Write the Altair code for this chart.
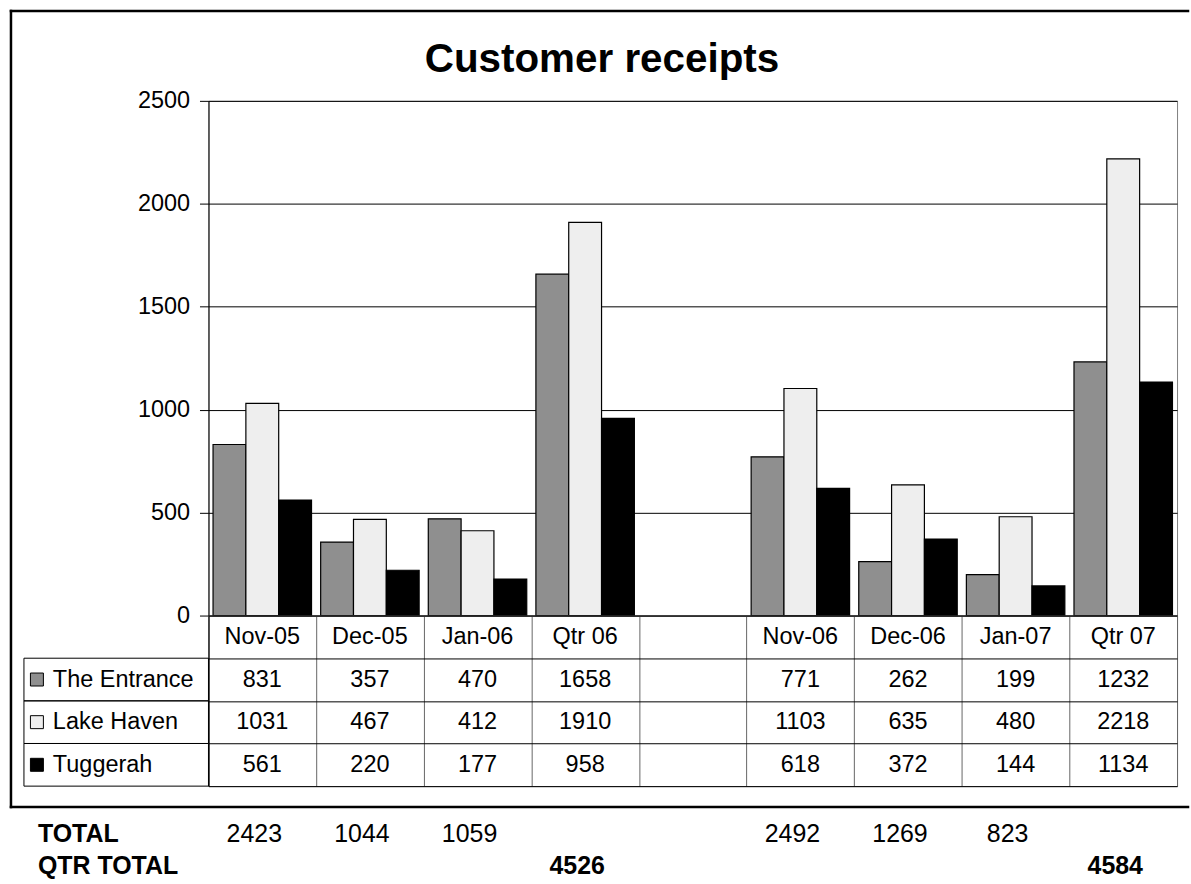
import altair as alt
import pandas as pd

FONT = "Liberation Sans"

categories = ["Nov-05", "Dec-05", "Jan-06", "Qtr 06", " ", "Nov-06", "Dec-06", "Jan-07", "Qtr 07"]
series = ["The Entrance", "Lake Haven", "Tuggerah"]
entrance = [831, 357, 470, 1658, None, 771, 262, 199, 1232]
lake_haven = [1031, 467, 412, 1910, None, 1103, 635, 480, 2218]
tuggerah = [561, 220, 177, 958, None, 618, 372, 144, 1134]
totals = [2423, 1044, 1059, None, None, 2492, 1269, 823, None]
qtr_totals = [None, None, None, 4526, None, None, None, None, 4584]
y_ticks = [0, 500, 1000, 1500, 2000, 2500]
fills = ["#8f8f8f", "#eeeeee", "#000000"]
table_rows = ["hdr"] + series
total_rows = ["TOTAL", "QTR TOTAL"]

# ---- data frames -------------------------------------------------------
bar_records = []
table_records = []
for c in categories:
    if c.strip():
        table_records.append({"cat": c, "row": "hdr", "label": c})
for s, vals in zip(series, [entrance, lake_haven, tuggerah]):
    for c, v in zip(categories, vals):
        if v is not None:
            bar_records.append({"cat": c, "series": s, "value": v})
            table_records.append({"cat": c, "row": s, "label": str(v)})
bars_df = pd.DataFrame(bar_records)
table_df = pd.DataFrame(table_records)
series_df = pd.DataFrame({"row": series, "series": series})

tot_df = pd.DataFrame([{"cat": c, "row": "TOTAL", "label": str(v)}
                       for c, v in zip(categories, totals) if v is not None])
qtr_df = pd.DataFrame([{"cat": c, "row": "QTR TOTAL", "label": str(v)}
                       for c, v in zip(categories, qtr_totals) if v is not None])
rowlab_df = pd.DataFrame({"row": total_rows})
one = pd.DataFrame({"k": [0]})

fill_scale = alt.Scale(domain=series, range=fills)

# ---- bar chart ---------------------------------------------------------
bars = alt.Chart(bars_df).mark_bar(stroke="black", strokeWidth=1.2).encode(
    x=alt.X("cat:N", scale=alt.Scale(domain=categories, paddingInner=0.085, paddingOuter=0.0425),
            axis=None, sort=categories),
    xOffset=alt.XOffset("series:N", scale=alt.Scale(domain=series, paddingInner=0, paddingOuter=0)),
    y=alt.Y("value:Q", scale=alt.Scale(domain=[0, 2500], nice=False),
            axis=alt.Axis(values=y_ticks, format="d", grid=True, gridColor="black", gridOpacity=1,
                          gridWidth=1, domainColor="black", tickColor="black", tickSize=9,
                          labelFontSize=23.5, labelPadding=10, labelColor="black", labelFont=FONT),
            title=None),
    fill=alt.Fill("series:N", scale=fill_scale, legend=None),
).properties(
    width=971, height=516,
    title=alt.TitleParams("Customer receipts", fontSize=40.5, fontWeight="bold", font=FONT,
                          color="black", anchor="middle", frame="group", dx=-91, offset=8),
    view=alt.ViewBackground(stroke="#808080"),
)

# ---- data table --------------------------------------------------------
x_tab = alt.X("cat:N", scale=alt.Scale(type="band", domain=categories, paddingInner=0, paddingOuter=0),
              axis=alt.Axis(grid=True, tickBand="extent", gridColor="#666666", gridOpacity=1,
                            labels=False, ticks=False, domain=False), title=None)
y_tab = alt.Y("row:N", scale=alt.Scale(type="band", domain=table_rows, paddingInner=0, paddingOuter=0),
              axis=alt.Axis(grid=True, tickBand="extent", gridColor="black", gridOpacity=1,
                            labels=False, ticks=False, domain=True, domainColor="black"), title=None)

cells = alt.Chart(table_df).mark_text(fontSize=23.5, font=FONT, color="black", baseline="middle").encode(
    x=x_tab, y=y_tab, text="label:N")
boxes = alt.Chart(series_df).mark_rect(fillOpacity=0, stroke="black", strokeWidth=1).encode(
    y=y_tab, x=alt.value(-185), x2=alt.value(0))
swatches = alt.Chart(series_df).mark_point(shape="square", size=169, filled=True, stroke="black",
                                           strokeWidth=1, opacity=1).encode(
    y=y_tab, x=alt.value(-172), fill=alt.Fill("series:N", scale=fill_scale, legend=None))
leg_text = alt.Chart(series_df).mark_text(align="left", fontSize=23.5, font=FONT, color="black",
                                          baseline="middle").encode(
    y=y_tab, x=alt.value(-156), text="series:N")

table = alt.layer(cells, boxes, swatches, leg_text).properties(
    width=971, height=171, view=alt.ViewBackground(stroke="#808080"))

# ---- totals below ------------------------------------------------------
x_tot = alt.X("cat:N", scale=alt.Scale(type="band", domain=categories, paddingInner=0, paddingOuter=0),
              axis=None)
y_tot = alt.Y("row:N", scale=alt.Scale(type="point", domain=total_rows, range=[48, 80], padding=0),
              axis=None)

tot_text = alt.Chart(tot_df).mark_text(fontSize=25, font=FONT, color="black", dx=-8,
                                       baseline="middle").encode(x=x_tot, y=y_tot, text="label:N")
qtr_text = alt.Chart(qtr_df).mark_text(fontSize=25, font=FONT, color="black", dx=-8, fontWeight="bold",
                                       baseline="middle").encode(x=x_tot, y=y_tot, text="label:N")
row_text = alt.Chart(rowlab_df).mark_text(fontSize=25, font=FONT, color="black", fontWeight="bold",
                                          align="left", baseline="middle").encode(
    x=alt.value(-171), y=y_tot, text="row:N")

border_top = alt.Chart(one).mark_rule(color="black", strokeWidth=2.5, strokeCap="square").encode(
    x=alt.value(-198), x2=alt.value(982), y=alt.value(-777))
border_left = alt.Chart(one).mark_rule(color="black", strokeWidth=2.5, strokeCap="square").encode(
    x=alt.value(-198), y=alt.value(-777), y2=alt.value(21))
border_bottom = alt.Chart(one).mark_rule(color="black", strokeWidth=2.5, strokeCap="square").encode(
    x=alt.value(-198), x2=alt.value(982), y=alt.value(21))

tot = alt.layer(tot_text, qtr_text, row_text, border_top, border_left, border_bottom).properties(
    width=971, height=95, view=alt.ViewBackground(stroke="transparent"))

chart = alt.vconcat(bars, table, tot, spacing=0, bounds="flush").properties(
    padding={"left": 8, "top": 7, "right": 0, "bottom": 0},
    background="white",
).configure(font=FONT)

chart.save("out.html", embed_options={"renderer": "svg", "actions": False})
